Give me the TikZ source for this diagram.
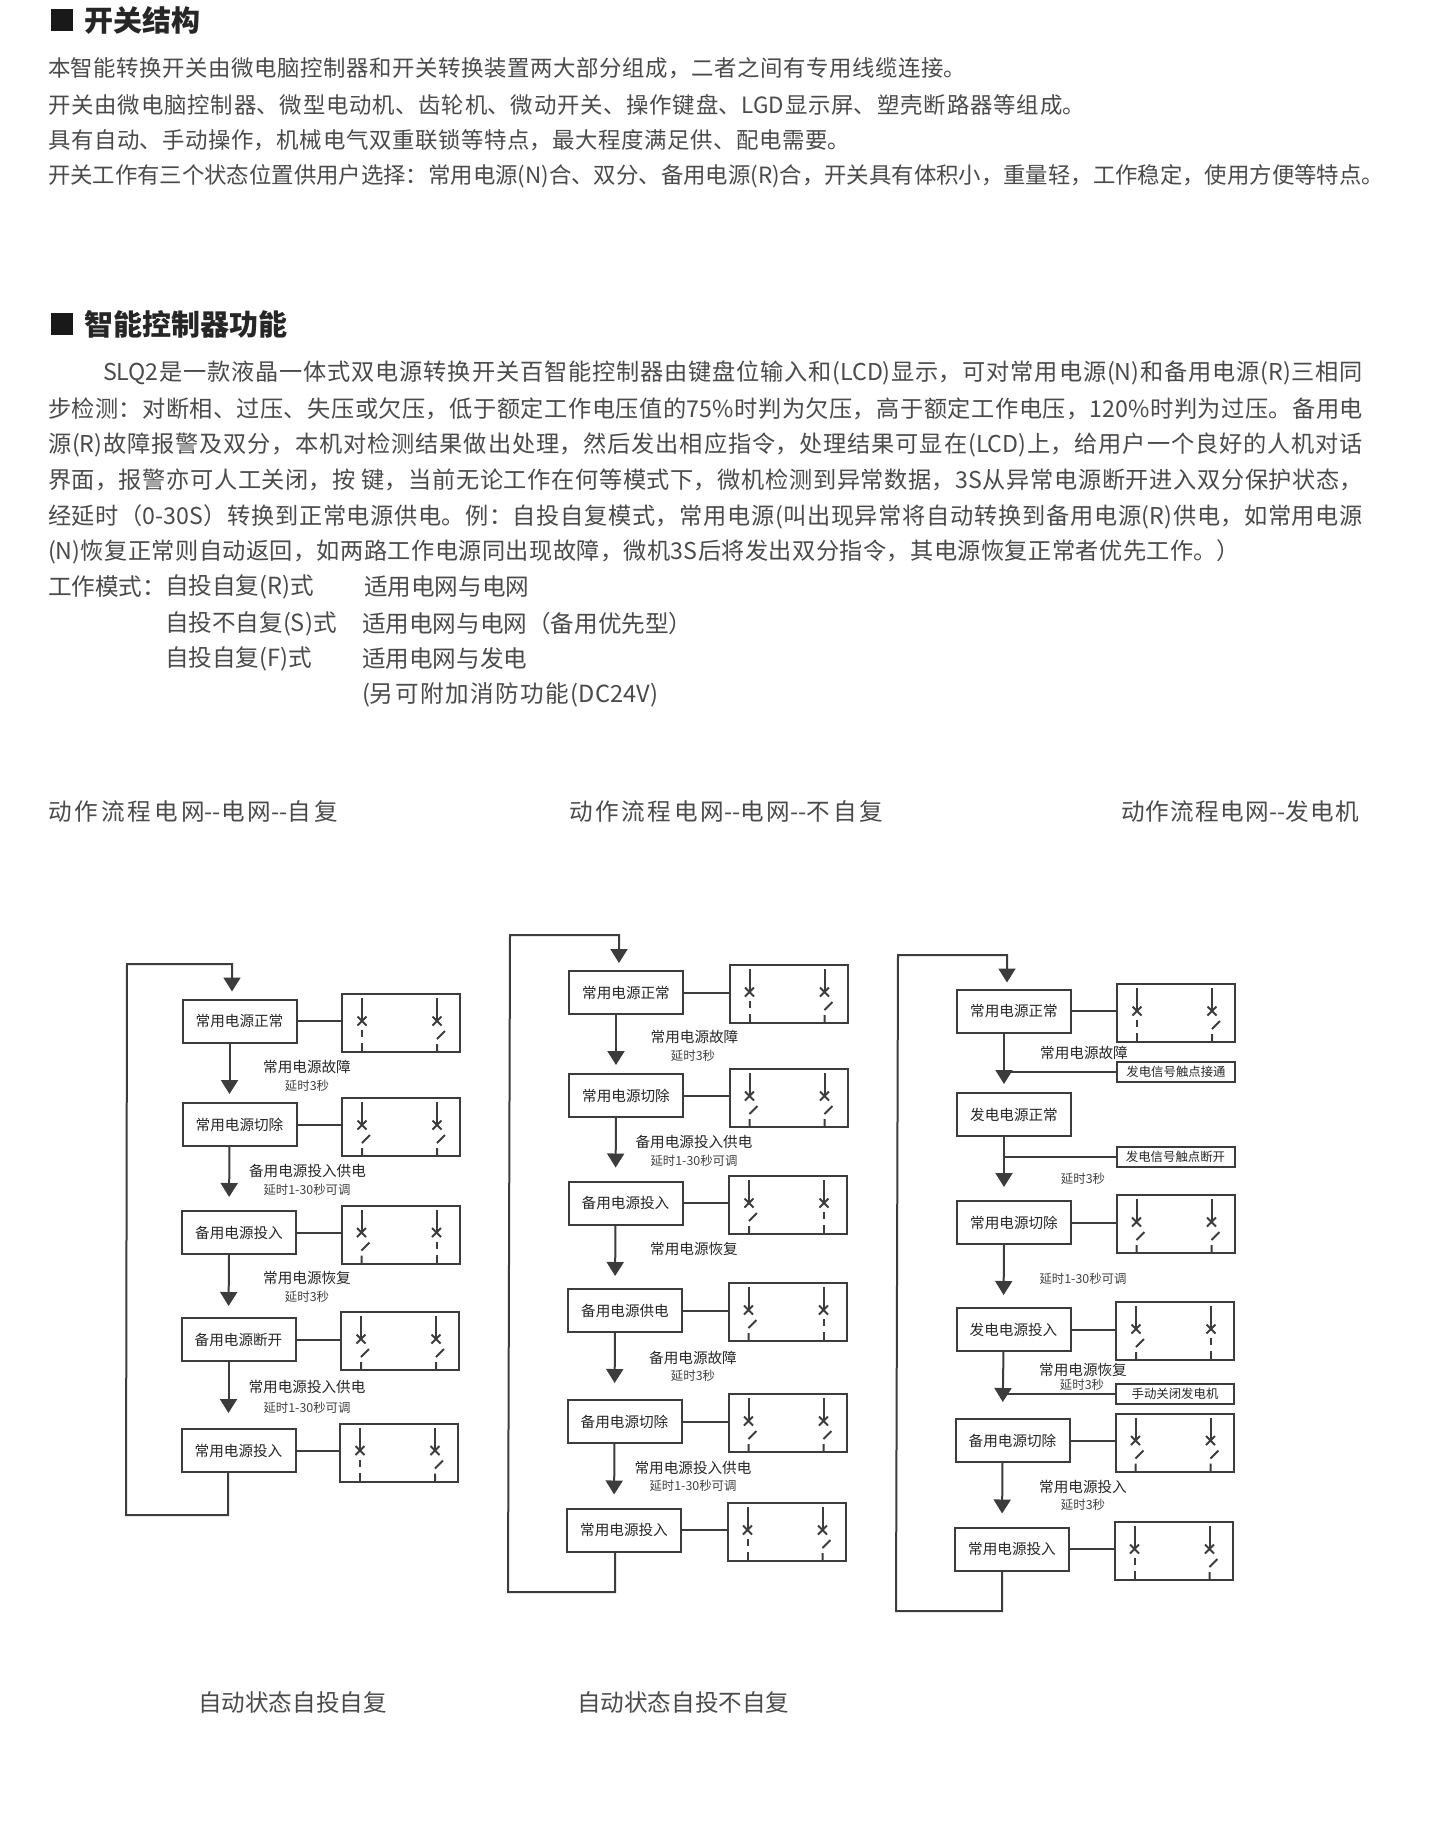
\documentclass[tikz,border=0pt]{standalone}
\usepackage{fontspec}
\setmainfont{Noto Sans CJK SC}
\usetikzlibrary{positioning, arrows.meta}
\XeTeXlinebreaklocale "zh"
\XeTeXlinebreakskip=0pt plus 2pt minus 0.5pt
\definecolor{slqText}{HTML}{4A4A4A}
\definecolor{slqLine}{HTML}{3C3C3C}
\newcommand{\fitline}[2]{\parbox{#1pt}{\tolerance=10000\parindent=0pt\parfillskip=0pt #2\par}}

\begin{document}
\begin{tikzpicture}[
    x=0.5pt, y=-0.5pt,
    every node/.style={inner sep=0pt, outer sep=0pt, text=slqText},
    headline/.style={font=\fontsize{14.5}{16}\selectfont\bfseries, anchor=west, text=black!85},
    headmark/.style={fill=black!90, minimum width=11pt, minimum height=11pt},
    bodyline/.style={font=\fontsize{11.2}{13}\selectfont, anchor=west},
    parline/.style={font=\fontsize{11.6}{13}\selectfont, anchor=west},
    wideline/.style={font=\fontsize{11.8}{13}\selectfont, anchor=west},
    wire/.style={line width=1pt, draw=slqLine},
    flowarrow/.style={wire, -{Triangle[length=7pt, width=8.5pt]}},
    statebox/.style={draw=slqLine, line width=1pt, fill=white, minimum width=57pt, minimum height=21.5pt, font=\fontsize{7.3}{9}\selectfont, text=black!85},
    switchbox/.style={draw=slqLine, line width=1pt, minimum width=59pt, minimum height=29pt},
    signalbox/.style={draw=slqLine, line width=1pt, minimum width=59pt, minimum height=10pt, font=\fontsize{6.2}{7}\selectfont, text=black!85},
    steplabel/.style={font=\fontsize{7.3}{9}\selectfont, text=black!85},
    delaylabel/.style={font=\fontsize{6.2}{7}\selectfont, text=black!75},
    closedpole/.pic={
        \draw[wire] (0,-25) -- (0,-2);
        \draw[wire] (-4.5,-6.5) -- (4.5,2.5) (-4.5,2.5) -- (4.5,-6.5);
        \draw[wire] (0,7) -- (0,14) (0,20) -- (0,29);
    },
    openpole/.pic={
        \draw[wire] (0,-25) -- (0,-2);
        \draw[wire] (-4.5,-6.5) -- (4.5,2.5) (-4.5,2.5) -- (4.5,-6.5);
        \draw[wire] (0,16) -- (8,8) (0,21) -- (0,29);
    }
]
\useasboundingbox (0,0) rectangle (1452,1848);

% ============================
% Top: text blocks
% ============================
\node[headmark] (markone) at (62,20) {};
\node[headline] (headone) at (84,20) {开关结构};
\node[bodyline] (topa) at (48,68.5) {\fitline{459}{本智能转换开关由微电脑控制器和开关转换装置两大部分组成，二者之间有专用线缆连接。}};
\node[bodyline] (topb) at (48,104.5) {\fitline{518.5}{开关由微电脑控制器、微型电动机、齿轮机、微动开关、操作键盘、LGD显示屏、塑壳断路器等组成。}};
\node[bodyline] (topc) at (48,140) {\fitline{401}{具有自动、手动操作，机械电气双重联锁等特点，最大程度满足供、配电需要。}};
\node[bodyline] (topd) at (48,176.5) {\fitline{668}{开关工作有三个状态位置供用户选择：常用电源(N)合、双分、备用电源(R)合，开关具有体积小，重量轻，工作稳定，使用方便等特点。}};

\node[headmark] (marktwo) at (62,324) {};
\node[headline] (headtwo) at (84,324) {智能控制器功能};
\node[parline] (para) at (103,372.5) {\fitline{630}{SLQ2是一款液晶一体式双电源转换开关百智能控制器由键盘位输入和(LCD)显示，可对常用电源(N)和备用电源(R)三相同}};
\node[parline] (parb) at (48,408.5) {\fitline{657.5}{步检测：对断相、过压、失压或欠压，低于额定工作电压值的75\%时判为欠压，高于额定工作电压，120\%时判为过压。备用电}};
\node[parline] (parc) at (48,445) {\fitline{657.5}{源(R)故障报警及双分，本机对检测结果做出处理，然后发出相应指令，处理结果可显在(LCD)上，给用户一个良好的人机对话}};
\node[parline] (pard) at (48,480) {\fitline{657.5}{界面，报警亦可人工关闭，按\ 键，当前无论工作在何等模式下，微机检测到异常数据，3S从异常电源断开进入双分保护状态，}};
\node[parline] (pare) at (48,517) {\fitline{657.5}{经延时（0-30S）转换到正常电源供电。例：自投自复模式，常用电源(叫出现异常将自动转换到备用电源(R)供电，如常用电源}};
\node[parline] (parf) at (48,552) {\fitline{596}{(N)恢复正常则自动返回，如两路工作电源同出现故障，微机3S后将发出双分指令，其电源恢复正常者优先工作。）}};

% Working modes
\node[wideline] (modehead) at (48,587) {工作模式：};
\node[wideline] (modea) at (165,587) {自投自复(R)式};
\node[wideline] (modeb) at (165,623.5) {自投不自复(S)式};
\node[wideline] (modec) at (165,659) {自投自复(F)式};
\node[wideline] (usea) at (364,587) {适用电网与电网};
\node[wideline] (useb) at (362,623.5) {适用电网与电网（备用优先型）};
\node[wideline] (usec) at (362,659) {适用电网与发电};
\node[wideline] (used) at (362,695) {\fitline{148}{(另可附加消防功能(DC24V)}};

% Chart titles
\node[wideline] (titlea) at (48,812) {\fitline{145}{动作流程电网-{}-电网-{}-自复}};
\node[wideline] (titleb) at (569,812) {\fitline{157}{动作流程电网-{}-电网-{}-不自复}};
\node[wideline] (titlec) at (1121,812) {\fitline{119}{动作流程电网-{}-发电机}};

% ============================
% Flow charts: state box + switch box
% ============================
\foreach \nm/\bx/\by/\sx/\sy/\txt/\pa/\pb in {
    a1/239.5/1021/401/1023/常用电源正常/closedpole/openpole,
    a2/239.5/1124.5/401/1127/\raisebox{-1.3pt}{常用电源切除}/openpole/openpole,
    a3/239/1232.5/400.5/1234.5/备用电源投入/openpole/closedpole,
    a4/238.5/1339.5/400/1341/备用电源断开/openpole/openpole,
    a5/238.5/1450.5/399/1452.5/常用电源投入/closedpole/openpole,
    b1/626/992.5/788.5/994/常用电源正常/closedpole/openpole,
    b2/626/1095.5/788.5/1098/\raisebox{-1.3pt}{常用电源切除}/openpole/openpole,
    b3/625.5/1203/788/1205/备用电源投入/openpole/closedpole,
    b4/625/1310.5/787.5/1312/备用电源供电/openpole/closedpole,
    b5/624.5/1421.5/787.5/1423/备用电源切除/openpole/openpole,
    b6/624/1530/786.5/1532/常用电源投入/closedpole/openpole,
    c1/1014/1011/1176/1013/常用电源正常/closedpole/openpole,
    c3/1014/1222.5/1175.5/1224/常用电源切除/openpole/openpole,
    c4/1013.5/1329.5/1175/1331/发电电源投入/openpole/closedpole,
    c5/1012.5/1440.5/1174.5/1442.5/备用电源切除/openpole/openpole,
    c6/1012/1549/1173.5/1551/常用电源投入/closedpole/openpole} {
    \node[statebox] (\nm) at (\bx,\by) {\txt};
    \node[switchbox] (s\nm) at (\sx,\sy) {};
    \draw[wire] (\nm.east) -- (\nm.east -| s\nm.west);
    \pic at ([xshift=-19.5pt]s\nm.center) {\pa};
    \pic at ([xshift=18pt]s\nm.center) {\pb};
}
\node[statebox] (c2) at (1014,1114.5) {发电电源正常};

% Arrows between states (gap in pt)
\foreach \p/\q/\g in {a1/a2/4.5, a2/a3/7, a3/a4/6, a4/a5/8,
    b1/b2/4.5, b2/b3/7, b3/b4/6.5, b4/b5/8.5, b5/b6/7,
    c1/c2/4.5, c2/c3/7, c3/c4/6.5, c4/c5/8.5, c5/c6/7} {
    \draw[flowarrow, shorten >=\g pt] ([xshift=-5pt]\p.south) -- ([xshift=-5pt]\q.north);
}

% Return loops
\coordinate (aloopt) at (127,964);
\coordinate (aloopb) at (126,1515);
\draw[flowarrow, shorten >=4pt] ([xshift=-5.25pt]a5.south) |- (aloopb) -- (aloopt) -| ([xshift=-3.75pt]a1.north);
\coordinate (bloopt) at (510,935);
\coordinate (bloopb) at (508,1592);
\draw[flowarrow, shorten >=4pt] ([xshift=-4.5pt]b6.south) |- (bloopb) -- (bloopt) -| ([xshift=-3.5pt]b1.north);
\coordinate (cloopt) at (898,955);
\coordinate (cloopb) at (896,1611);
\draw[flowarrow, shorten >=3.5pt] ([xshift=-5pt]c6.south) |- (cloopb) -- (cloopt) -| ([xshift=-3.5pt]c1.north);

% Signal boxes on the third chart
\node[signalbox] (siga) at (1176,1072) {发电信号触点接通};
\node[signalbox] (sigb) at (1175.5,1157) {发电信号触点断开};
\node[signalbox] (sigc) at (1175,1394) {手动关闭发电机};
\coordinate (tapa) at ([xshift=-5pt]c1.south);
\coordinate (tapb) at ([xshift=-5pt]c2.south);
\coordinate (tapc) at ([xshift=-5pt]c4.south);
\draw[wire] (siga.west) -- (siga.west -| tapa);
\draw[wire] (sigb.west) -- (sigb.west -| tapb);
\draw[wire] (sigc.west) -- (sigc.west -| tapc);

% Labels: chart a
\node[steplabel] (la1) at (307,1067) {常用电源故障};
\node[delaylabel] (da1) at (307,1086) {延时3秒};
\node[steplabel] (la2) at (307.5,1171) {备用电源投入供电};
\node[delaylabel] (da2) at (307,1190) {延时1-30秒可调};
\node[steplabel] (la3) at (307,1278) {常用电源恢复};
\node[delaylabel] (da3) at (307,1297) {延时3秒};
\node[steplabel] (la4) at (307,1387) {常用电源投入供电};
\node[delaylabel] (da4) at (307,1408) {延时1-30秒可调};

% Labels: chart b
\node[steplabel] (lb1) at (694.5,1037) {常用电源故障};
\node[delaylabel] (db1) at (693,1056) {延时3秒};
\node[steplabel] (lb2) at (694,1142) {备用电源投入供电};
\node[delaylabel] (db2) at (694,1161) {延时1-30秒可调};
\node[steplabel] (lb3) at (694,1249) {常用电源恢复};
\node[steplabel] (lb4) at (693,1358) {备用电源故障};
\node[delaylabel] (db4) at (693,1376) {延时3秒};
\node[steplabel] (lb5) at (693,1468) {常用电源投入供电};
\node[delaylabel] (db5) at (693,1486) {延时1-30秒可调};

% Labels: chart c
\node[steplabel] (lc1) at (1084,1053) {常用电源故障};
\node[delaylabel] (dc2) at (1083,1179) {延时3秒};
\node[delaylabel] (dc3) at (1083,1279) {延时1-30秒可调};
\node[steplabel] (lc4) at (1083,1370) {常用电源恢复};
\node[delaylabel] (dc4) at (1082,1385) {延时3秒};
\node[steplabel] (lc5) at (1083,1487) {常用电源投入};
\node[delaylabel] (dc5) at (1083,1505) {延时3秒};

% Captions
\node[wideline] (capa) at (198,1702) {自动状态自投自复};
\node[wideline] (capb) at (577,1702) {自动状态自投不自复};

\end{tikzpicture}
\end{document}
